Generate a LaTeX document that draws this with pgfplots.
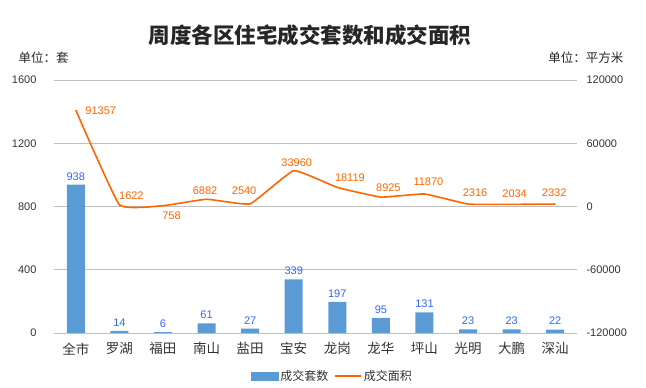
\documentclass[border=0pt]{standalone}
\usepackage{fontspec}
\setmainfont{Liberation Sans}
\newfontfamily\cjk{Noto Sans CJK SC}
\usepackage{pgfplots}
\pgfplotsset{compat=1.18}
\usepackage{pgfplotstable}

\definecolor{barblue}{RGB}{91,155,213}
\definecolor{lineorange}{RGB}{255,102,0}
\definecolor{lblblue}{RGB}{51,102,255}
\definecolor{gridgray}{RGB}{191,191,191}
\definecolor{txtgray}{RGB}{50,50,50}

\pgfplotstableread{
x n area dx dy
0 938 91357 25 -1
1 14 1622 12 9
2 6 758 8.5 -10
3 61 6882 -1.5 9
4 27 2540 -6 13.5
5 339 33960 3 8
6 197 18119 12.6 10
7 95 8925 7.5 9.6
8 131 11870 4 12
9 23 2316 7 11.5
10 23 2034 3 11
11 22 2332 -1 11.5
}\data

\begin{document}
\begin{tikzpicture}
\path[use as bounding box] (-54pt,-55pt) rectangle (592pt,333pt);
\begin{axis}[
  at={(0pt,0pt)}, anchor=south west,
  scale only axis, width=523pt, height=253pt,
  xmin=-0.5, xmax=11.5, ymin=0, ymax=1600,
  ytick={0,400,800,1200,1600},
  xtick={0,...,11},
  xticklabels={全市,罗湖,福田,南山,盐田,宝安,龙岗,龙华,坪山,光明,大鹏,深汕},
  xticklabel style={font=\cjk\fontsize{13.5}{13.5}\selectfont, text=txtgray, yshift=-6pt},
  yticklabel style={font=\fontsize{11}{11}\selectfont, text=txtgray, xshift=-14pt},
  /pgf/number format/assume math mode=true,
  /pgf/number format/set thousands separator={},
  ymajorgrids, grid style={gridgray, line width=0.8pt},
  axis line style={draw=none},
  major tick length=0pt,
  axis y line*=left, axis x line*=bottom,
  ybar, bar width=18pt,
  clip=false,
]
\addplot[fill=barblue, draw=none,
  nodes near coords,
  every node near coord/.append style={font=\fontsize{11}{11}\selectfont, text=lblblue, yshift=1pt}]
  table[x=x, y=n] {\data};
\end{axis}
\begin{axis}[
  at={(0pt,0pt)}, anchor=south west,
  scale only axis, width=523pt, height=253pt,
  xmin=-0.5, xmax=11.5, ymin=-120000, ymax=120000,
  ytick={-120000,-60000,0,60000,120000},
  yticklabels={-120000,-60000,0,60000,120000},
  scaled y ticks=false,
  yticklabel style={font=\fontsize{11}{11}\selectfont, text=txtgray, xshift=6pt},
  axis y line*=right, hide x axis,
  axis line style={draw=none},
  major tick length=0pt,
  clip=false,
  legend style={at={(0.5325,-0.17)}, anchor=center, draw=none, fill=none,
    font=\cjk\fontsize{12}{12}\selectfont, text=txtgray, legend columns=2,
    /tikz/every even column/.append style={column sep=4pt}},
]
\addlegendimage{legend image code/.code={\fill[barblue] (0pt,-4pt) rectangle (27pt,4pt);}}
\addlegendentry{成交套数}
\addplot[lineorange, line width=1.6pt, smooth, tension=0.2, mark=none,
  nodes near coords={\pgfmathprintnumber[assume math mode=true, set thousands separator={}]{\pgfplotspointmeta}},
  visualization depends on={\thisrow{dx} \as \ddx},
  visualization depends on={\thisrow{dy} \as \ddy},
  every node near coord/.append style={font=\fontsize{11}{11}\selectfont, text=lineorange, anchor=center, xshift=\ddx pt, yshift=\ddy pt},
  legend image code/.code={\draw[lineorange, line width=1.6pt] (0pt,0pt) -- (26pt,0pt);}]
  table[x=x, y=area] {\data};
\addlegendentry{成交面积}
\end{axis}
\node[font=\cjk\bfseries\fontsize{21.5}{21.5}\selectfont, text=black!85] at (256pt,298pt) {周度各区住宅成交套数和成交面积};
\node[font=\cjk\fontsize{12.5}{12.5}\selectfont, text=black!85, anchor=west] at (-39pt,275pt) {单位：套};
\node[font=\cjk\fontsize{12.5}{12.5}\selectfont, text=black!85, anchor=east] at (573pt,275pt) {单位：平方米};
\end{tikzpicture}
\end{document}
